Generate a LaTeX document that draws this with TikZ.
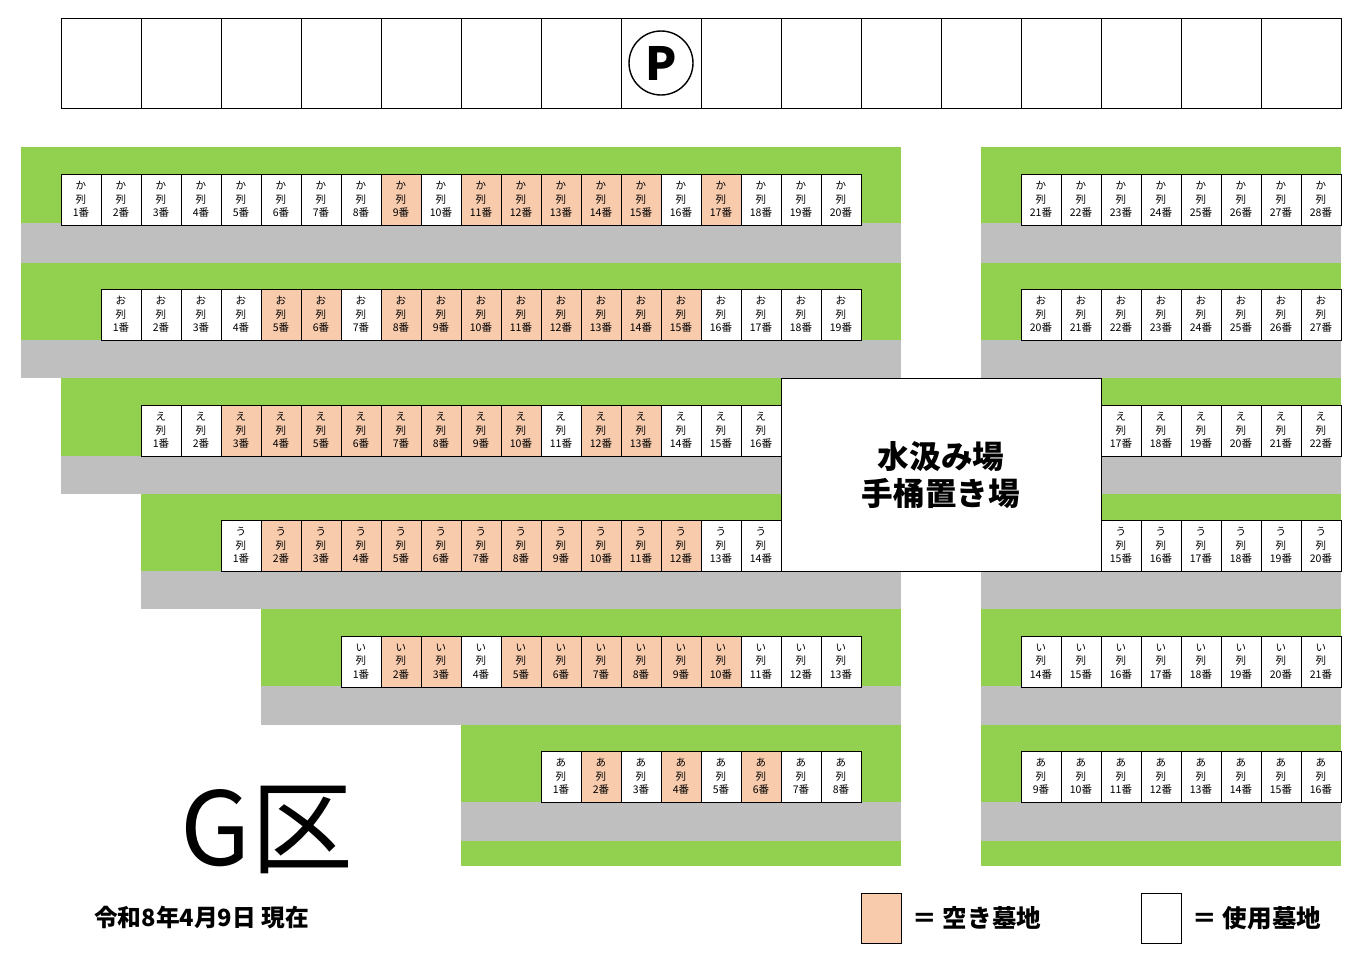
\documentclass[tikz,border=0pt]{standalone}
\usepackage{fontspec}
\setmainfont{Noto Sans CJK JP}
\usetikzlibrary{positioning}
\definecolor{lawn}{RGB}{146,208,80}
\definecolor{path}{RGB}{191,191,191}
\definecolor{vacantc}{RGB}{248,203,173}
\tikzset{
	plot/.style={draw=black, fill=white, line width=0.5pt, minimum width=0.8cm, minimum height=1.02cm, inner sep=0pt, align=center, font=\fontsize{6}{7.6}\selectfont},
	vacant/.style={plot, fill=vacantc},
}
% row of grave plots: kana, name, first, last, left x, top y
\newcommand\graverow[6]{
	\foreach \n in {#3,...,#4} {
		\pgfmathsetmacro\xx{#5+40*(\n-#3)+20}
		\node[plot] (#2-\n) at (\xx,#6+25.5) {#1\\列\\\n 番};
	}
}
% vacant plots drawn over the row: kana, left x, first, top y, list
\newcommand\vacantrow[5]{
	\foreach \n in {#5} {
		\pgfmathsetmacro\xx{#2+40*(\n-#3)+20}
		\node[vacant] at (\xx,#4+25.5) {#1\\列\\\n 番};
	}
}
\begin{document}
\begin{tikzpicture}[x=0.02cm,y=-0.02cm]
	\useasboundingbox (0,0) rectangle (1363,957);
	
	% parking
	\foreach \i in {0,...,15}
		\draw[line width=0.5pt] (61+80*\i,18) rectangle ++(80,90);
	\node[draw, circle, line width=0.8pt, minimum size=1.28cm, inner sep=0pt, font=\fontsize{26}{26}\selectfont\bfseries] (park) at (661,63) {P};
	
	% lawns and paths
	\fill[lawn] (21,147) rectangle (901,263);
	\fill[lawn] (981,147) rectangle (1341,263);
	\fill[lawn] (21,263) rectangle (901,340);
	\fill[lawn] (981,263) rectangle (1341,340);
	\fill[lawn] (61,378) rectangle (781,456);
	\fill[lawn] (1101,378) rectangle (1341,456);
	\fill[lawn] (141,494) rectangle (781,571);
	\fill[lawn] (1101,494) rectangle (1341,571);
	\fill[lawn] (261,609) rectangle (901,686);
	\fill[lawn] (981,609) rectangle (1341,686);
	\fill[lawn] (461,725) rectangle (901,866);
	\fill[lawn] (981,725) rectangle (1341,866);
	
	\fill[path] (21,223) rectangle (901,263);
	\fill[path] (981,223) rectangle (1341,263);
	\fill[path] (21,340) rectangle (901,378);
	\fill[path] (981,340) rectangle (1341,378);
	\fill[path] (61,456) rectangle (781,494);
	\fill[path] (1101,456) rectangle (1341,494);
	\fill[path] (141,571) rectangle (901,609);
	\fill[path] (981,571) rectangle (1341,609);
	\fill[path] (261,686) rectangle (901,725);
	\fill[path] (981,686) rectangle (1341,725);
	\fill[path] (461,802) rectangle (901,841);
	\fill[path] (981,802) rectangle (1341,841);
	
	% water place
	\node[draw, fill=white, line width=0.5pt, minimum width=6.4cm, minimum height=3.86cm, align=center, font=\fontsize{18}{21}\selectfont\bfseries] (water) at (941,475) {水汲み場\\手桶置き場};
	
	% plots
	\graverow{か}{ka}{1}{20}{61}{174}
	\vacantrow{か}{61}{1}{174}{9,11,12,13,14,15,17}
	\graverow{か}{kaR}{21}{28}{1021}{174}
	\graverow{お}{o}{1}{19}{101}{289}
	\vacantrow{お}{101}{1}{289}{5,6,8,9,10,11,12,13,14,15}
	\graverow{お}{oR}{20}{27}{1021}{289}
	\graverow{え}{e}{1}{16}{141}{405}
	\vacantrow{え}{141}{1}{405}{3,4,5,6,7,8,9,10,12,13}
	\graverow{え}{eR}{17}{22}{1101}{405}
	\graverow{う}{u}{1}{14}{221}{520}
	\vacantrow{う}{221}{1}{520}{2,3,4,5,6,7,8,9,10,11,12}
	\graverow{う}{uR}{15}{20}{1101}{520}
	\graverow{い}{i}{1}{13}{341}{636}
	\vacantrow{い}{341}{1}{636}{2,3,5,6,7,8,9,10}
	\graverow{い}{iR}{14}{21}{1021}{636}
	\graverow{あ}{a}{1}{8}{541}{751}
	\vacantrow{あ}{541}{1}{751}{2,4,6}
	\graverow{あ}{aR}{9}{16}{1021}{751}
	
	% titles
	\node[font=\fontsize{58}{58}\selectfont] (area) at (267,830) {G区};
	\node[font=\fontsize{13.5}{14}\selectfont\bfseries, anchor=west] (date) at (88,918) {令和8年4月9日 現在};
	
	% legend
	\node[vacant, minimum height=1cm] (legv) at (881,918) {};
	\node[font=\fontsize{14}{14}\selectfont\bfseries, right=0.1cm of legv] {＝ 空き墓地};
	\node[plot, minimum height=1cm] (legu) at (1161,918) {};
	\node[font=\fontsize{14}{14}\selectfont\bfseries, right=0.1cm of legu] {＝ 使用墓地};
\end{tikzpicture}
\end{document}
